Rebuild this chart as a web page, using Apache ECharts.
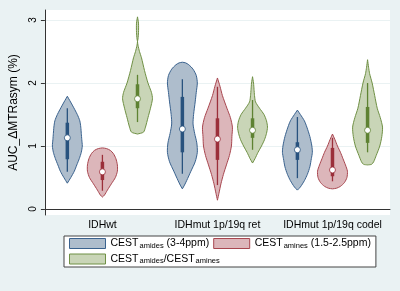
<!DOCTYPE html>
<html>
<head>
<meta charset="utf-8">
<script src="https://cdn.jsdelivr.net/npm/echarts@6/dist/echarts.min.js"></script>
<style>
  html, body { margin: 0; padding: 0; background: #eaf2f3; }
  #chart { width: 400px; height: 291px; }
</style>
</head>
<body>
<div id="chart"></div>
<script>
// groups on the x axis
var categories = ['IDHwt', 'IDHmut 1p/19q ret', 'IDHmut 1p/19q codel'];
var yTicks = [0, 1, 2, 3];

// violin outlines: [value, relative density], top to bottom, one per group
var amidesProfiles = [
  [[1.79,0],[1.65,5],[1.5,10],[1.4,12.5],[1.3,13.5],[1.2,14],[1.1,14.5],[1.0,15],[0.9,14],[0.8,12],[0.7,9.5],[0.6,7],[0.5,3.5],[0.41,0]],
  [[2.33,0],[2.32,3],[2.29,6],[2.22,10],[2.12,13],[2.0,14],[1.85,13],[1.7,12],[1.5,10.5],[1.35,10],[1.2,11.5],[1.05,13.5],[0.9,14],[0.75,12],[0.6,8],[0.45,4],[0.38,2],[0.32,0]],
  [[1.57,0],[1.5,3],[1.4,7],[1.3,9.5],[1.15,12.5],[1.0,14.5],[0.9,15],[0.8,14],[0.67,12.5],[0.55,10],[0.45,7],[0.35,3],[0.3,0]]
];
var aminesProfiles = [
  [[0.97,0],[0.96,4],[0.93,8],[0.88,11],[0.8,13.5],[0.7,15],[0.6,15],[0.5,13],[0.4,9],[0.3,5],[0.22,2],[0.19,0]],
  [[2.08,0],[1.95,2.5],[1.8,5],[1.6,9.5],[1.45,13],[1.3,15],[1.15,14.5],[1.0,14],[0.85,12],[0.7,9],[0.55,6],[0.4,3.5],[0.25,1.5],[0.14,0]],
  [[1.19,0],[1.1,2.5],[1.0,5],[0.9,8],[0.8,10.5],[0.7,13],[0.6,15],[0.5,14.5],[0.42,12],[0.36,8],[0.33,4],[0.32,0]]
];
var ratioProfiles = [
  [[3.05,0],[2.95,1],[2.8,1],[2.7,0.5],[2.66,0],[2.6,0.5],[2.5,2],[2.4,4],[2.2,7],[2.0,10.5],[1.85,14],[1.75,15],[1.6,13],[1.45,10.5],[1.3,8],[1.22,6],[1.19,0]],
  [[2.1,0],[2.0,1],[1.9,1.5],[1.8,2],[1.7,3],[1.6,7],[1.5,11.5],[1.4,14],[1.3,15],[1.2,14],[1.1,12],[1.0,9],[0.9,5.5],[0.8,2.5],[0.73,0]],
  [[2.37,0],[2.25,1],[2.15,2],[2.0,4.5],[1.8,7],[1.6,9.5],[1.45,12.5],[1.3,14.7],[1.15,14],[1.0,12],[0.85,8.5],[0.75,6],[0.71,4],[0.70,0]]
];

// box stats: [lower whisker, q1, median, q3, upper whisker]
var amidesStats = [[0.59,0.79,1.13,1.37,1.6],[0.56,0.9,1.27,1.78,2.06],[0.49,0.78,0.94,1.06,1.46]];
var aminesStats = [[0.29,0.46,0.59,0.75,0.86],[0.38,0.78,1.11,1.44,1.94],[0.44,0.52,0.62,0.97,1.13]];
var ratioStats  = [[1.38,1.6,1.75,1.98,2.13],[0.94,1.13,1.25,1.44,1.73],[0.9,1.05,1.25,1.62,2.0]];

var FONT = '"Liberation Sans", Arial, sans-serif';

function violinRender(profiles, stats, offset, fill, stroke, bar) {
  return function(params, api) {
    var i = api.value(0);
    var band = api.size([1, 0])[0];
    var cx = api.coord([i, 0])[0] + offset * band;
    var prof = profiles[i];
    var st = stats[i];
    var maxD = 0;
    prof.forEach(function(p){ if (p[1] > maxD) maxD = p[1]; });
    var half = band * 0.13;
    var left = [], right = [];
    prof.forEach(function(p){
      var y = api.coord([i, p[0]])[1];
      var w = p[1] / maxD * half;
      left.push([cx - w, y]);
      right.unshift([cx + w, y]);
    });
    var yOf = function(v){ return api.coord([i, v])[1]; };
    return {
      type: 'group',
      children: [
        { type: 'polygon', shape: { points: left.concat(right), smooth: 0.25 },
          style: { fill: fill, stroke: stroke, lineWidth: 1 } },
        { type: 'line', shape: { x1: cx, y1: yOf(st[0]), x2: cx, y2: yOf(st[4]) },
          style: { stroke: bar, lineWidth: 1.3 } },
        { type: 'line', shape: { x1: cx, y1: yOf(st[1]), x2: cx, y2: yOf(st[3]) },
          style: { stroke: bar, lineWidth: 3.5 } },
        { type: 'circle', shape: { cx: cx, cy: yOf(st[2]), r: 3 },
          style: { fill: '#fff', stroke: bar, lineWidth: 0.8 } }
      ]
    };
  };
}

var legendRich = {
  m: { fontSize: 10.5, fontFamily: FONT, color: '#000' },
  s: { fontSize: 7.5, fontFamily: FONT, color: '#000', padding: [4, 0, 0, 1] }
};

var chart = echarts.init(document.getElementById('chart'), null, { renderer: 'canvas' });
var option = {
  backgroundColor: '#eaf2f3',
  animation: false,
  grid: { left: 42, right: 10, top: 10, bottom: 76, show: true, backgroundColor: '#fff', borderWidth: 0 },
  legend: {
    left: 64, top: 236, width: 305,
    padding: [2, 5, 2, 5],
    itemWidth: 36, itemHeight: 10, itemGap: 4,
    backgroundColor: '#fff', borderColor: '#444', borderWidth: 1, borderRadius: 0,
    icon: 'rect',
    textStyle: { rich: legendRich },
    data: [
      { name: 'amides', itemStyle: { color: '#aebdcc', borderColor: '#3a628e', borderWidth: 1 } },
      { name: 'amines', itemStyle: { color: '#dcb6ba', borderColor: '#a8464f', borderWidth: 1 } },
      { name: 'ratio',  itemStyle: { color: '#c9d5b7', borderColor: '#6f9044', borderWidth: 1 } }
    ],
    formatter: function(name) {
      if (name === 'amides') return '{m|CEST}{s|amides}{m| (3-4ppm)}';
      if (name === 'amines') return '{m|CEST}{s|amines}{m| (1.5-2.5ppm)}';
      return '{m|CEST}{s|amides}{m|/CEST}{s|amines}';
    }
  },
  xAxis: {
    type: 'category', data: categories,
    axisLine: { lineStyle: { color: '#333', width: 1 } },
    axisTick: { show: false },
    axisLabel: { interval: 0, color: '#000', fontSize: 10.5, fontFamily: FONT, margin: 5 },
    splitLine: { show: false }
  },
  yAxis: {
    type: 'value', min: -0.095, max: 3.159,
    name: 'AUC_ΔMTRasym (%)', nameLocation: 'middle', nameGap: 20,
    nameTextStyle: { color: '#000', fontSize: 12, fontFamily: FONT },
    axisLine: { show: true, lineStyle: { color: '#333', width: 1 } },
    axisTick: { show: true, length: 4, customValues: yTicks, lineStyle: { color: '#333' } },
    axisLabel: { rotate: 90, color: '#000', fontSize: 10, fontFamily: FONT, margin: 7, customValues: yTicks },
    splitLine: { show: true, lineStyle: { color: '#eaf2f3', width: 1 } }
  },
  series: [
    { name: 'amides', type: 'custom', encode: { x: 0, y: 1 },
      itemStyle: { color: '#aebdcc' },
      data: categories.map(function(c, i){ return [i, amidesStats[i][2]]; }),
      renderItem: violinRender(amidesProfiles, amidesStats, -0.305, '#aebdcc', '#3a628e', '#28527e') },
    { name: 'amines', type: 'custom', encode: { x: 0, y: 1 },
      itemStyle: { color: '#dcb6ba' },
      data: categories.map(function(c, i){ return [i, aminesStats[i][2]]; }),
      renderItem: violinRender(aminesProfiles, aminesStats, 0, '#dcb6ba', '#a8464f', '#9b2f3a') },
    { name: 'ratio', type: 'custom', encode: { x: 0, y: 1 },
      itemStyle: { color: '#c9d5b7' },
      data: categories.map(function(c, i){ return [i, ratioStats[i][2]]; }),
      renderItem: violinRender(ratioProfiles, ratioStats, 0.305, '#c9d5b7', '#6f9044', '#5e8232') }
  ]
};
chart.setOption(option);
</script>
</body>
</html>
